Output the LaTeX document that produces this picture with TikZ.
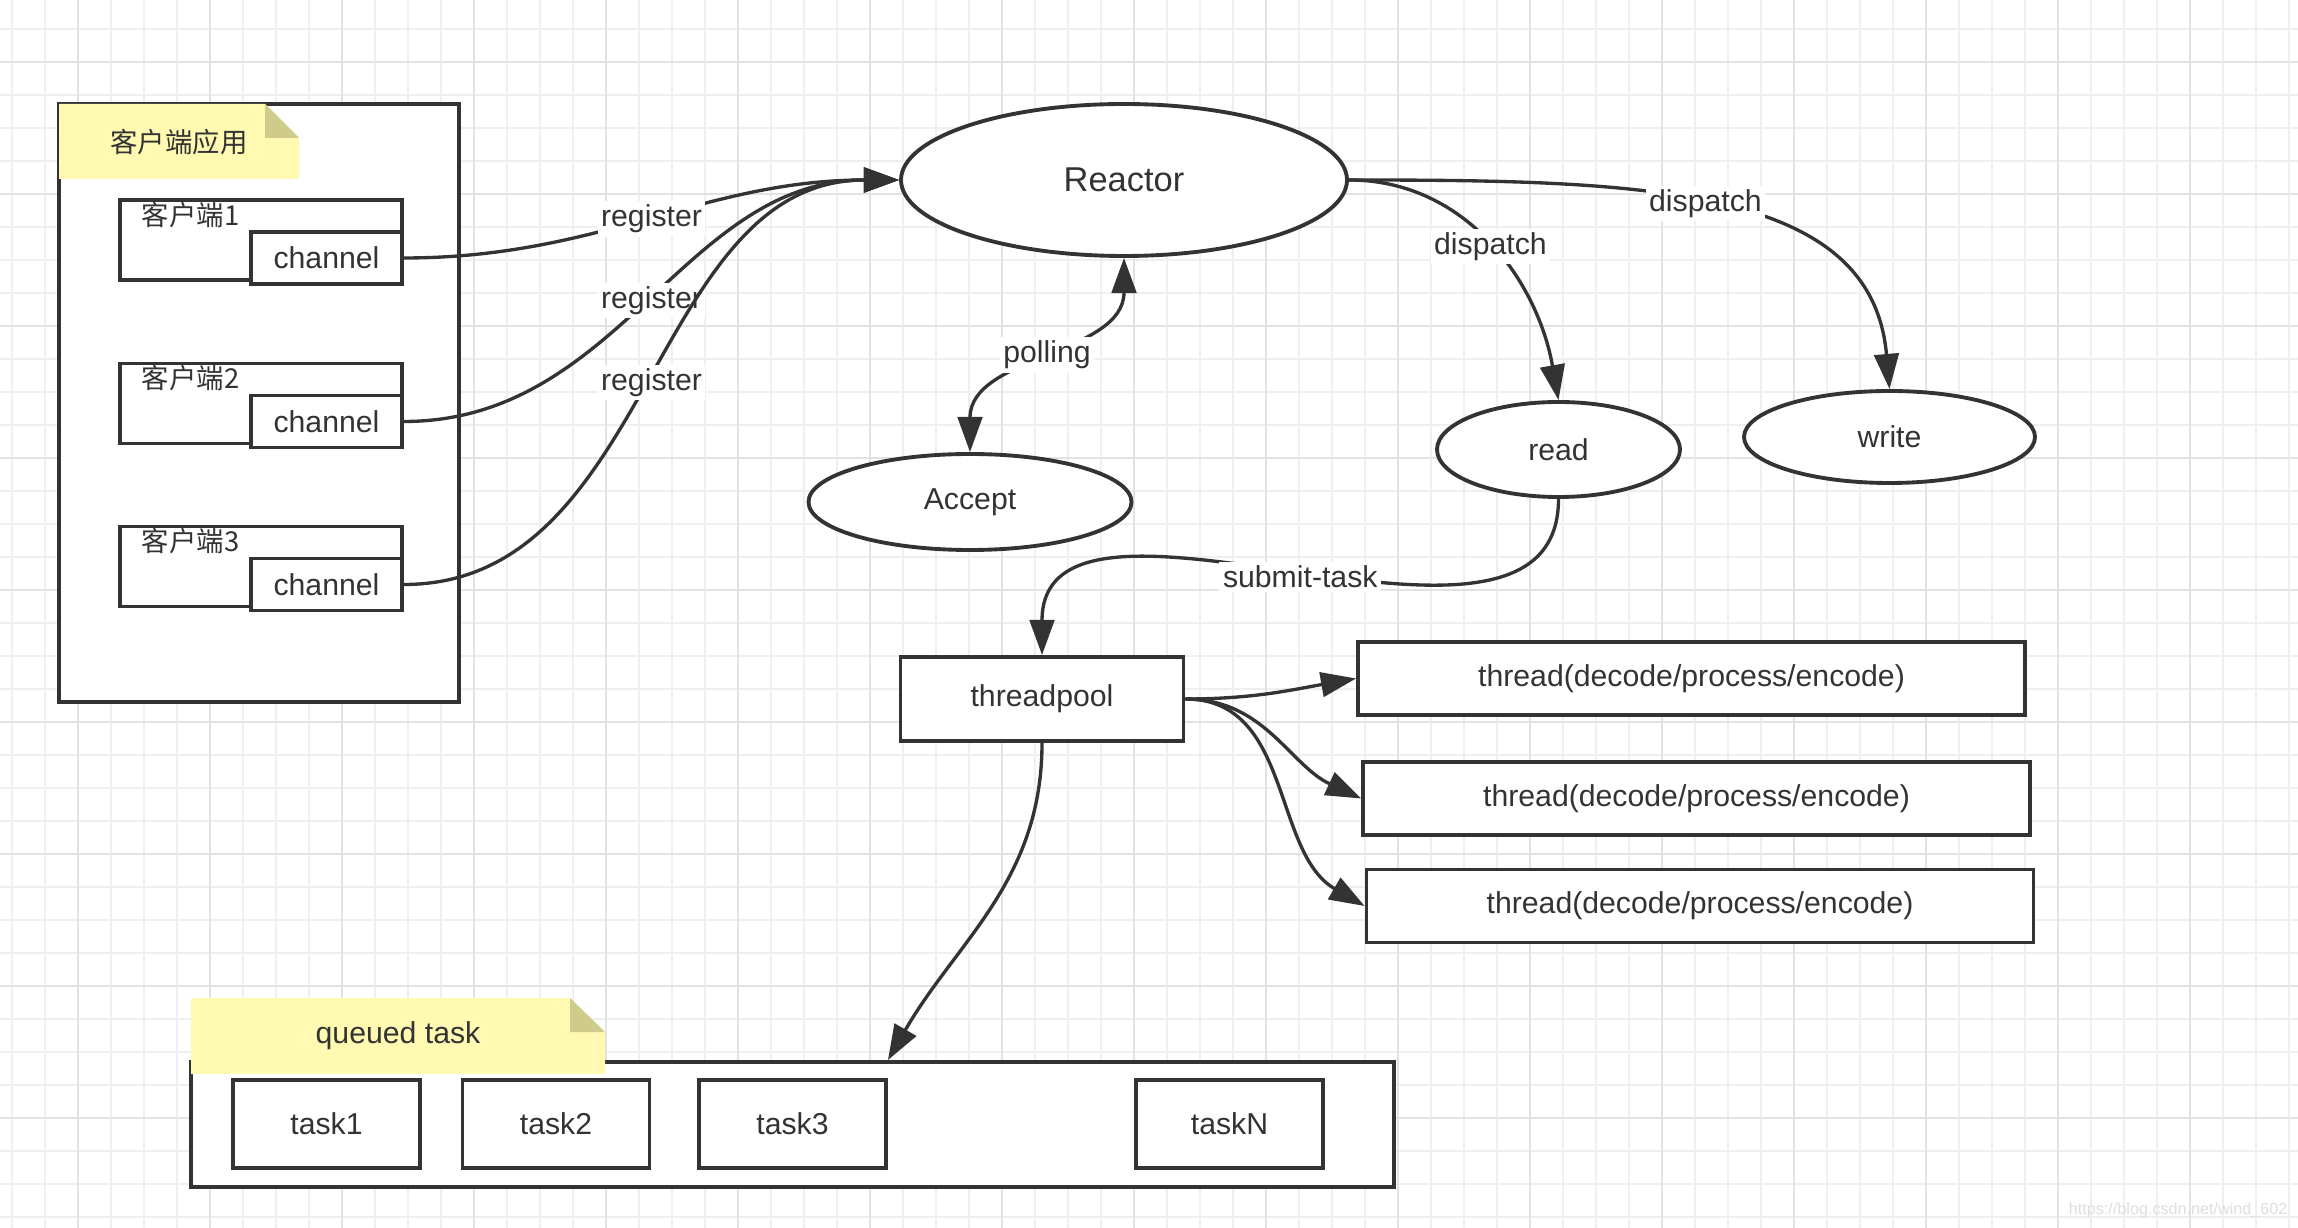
\documentclass[tikz,border=0pt]{standalone}
\usepackage{fontspec}
\setmainfont{Liberation Sans}
\newfontfamily\cjk{Noto Sans CJK SC}
\usetikzlibrary{shapes.geometric,arrows.meta}
\definecolor{ink}{HTML}{333333}
\definecolor{notefill}{HTML}{FFF9B2}
\definecolor{notefold}{HTML}{CFCB8A}
\definecolor{gridminor}{HTML}{EFEFEF}
\definecolor{gridmajor}{HTML}{E2E2E2}

\begin{document}
\begin{tikzpicture}[
        box/.style = {draw=ink, line width=1.1pt, fill=white, inner sep=0pt, text=ink, font=\fontsize{8.6}{10}\selectfont},
        oval/.style = {ellipse, draw=ink, line width=1.1pt, fill=white, inner sep=0pt, text=ink, font=\fontsize{8.6}{10}\selectfont},
        lbl/.style = {fill=white, inner sep=1pt, text=ink, font=\fontsize{8.6}{10}\selectfont},
        cn/.style = {inner sep=0pt, text=ink, font=\cjk\fontsize{7.8}{9}\selectfont},
        link/.style = {draw=ink, line width=0.95pt, -{Triangle[length=10pt,width=7pt]}}
    ]
        \useasboundingbox (0,0) rectangle (22.98,-12.28);
        \fill[white] (0,0) rectangle (22.98,-12.28);
        % grid
        \foreach \i in {0,...,69} \draw[gridminor, line width=0.4pt] ({0.12+0.33*\i},0) -- ++(0,-12.28);
        \foreach \j in {0,...,36} \draw[gridminor, line width=0.4pt] (0,{-0.29-0.33*\j}) -- ++(22.98,0);
        \foreach \i in {0,...,16} \draw[gridmajor, line width=0.5pt] ({0.78+1.32*\i},0) -- ++(0,-12.28);
        \foreach \j in {0,...,8} \draw[gridmajor, line width=0.5pt] (0,{-0.62-1.32*\j}) -- ++(22.98,0);

        % client side
        \node[box, minimum width=4cm, minimum height=5.98cm] (app) at (2.59,-4.03) {};
        \fill[notefill] (0.59,-1.04) -- (2.65,-1.04) -- (2.99,-1.38) -- (2.99,-1.79) -- (0.59,-1.79) -- cycle;
        \fill[notefold] (2.65,-1.04) -- (2.65,-1.38) -- (2.99,-1.38) -- cycle;
        \node[cn] (apptitle) at (1.79,-1.42) {客户端应用};

        \node[box, minimum width=2.82cm, minimum height=0.8cm] (cl1) at (2.61,-2.40) {};
        \node[box, anchor=south east, minimum width=1.51cm, minimum height=0.52cm] (ch1) at ([yshift=-0.04cm]cl1.south east) {channel};
        \node[cn, anchor=west] (cl1name) at ([xshift=0.23cm,yshift=-0.165cm]cl1.north west) {客户端1};

        \node[box, minimum width=2.82cm, minimum height=0.8cm] (cl2) at (2.61,-4.035) {};
        \node[box, anchor=south east, minimum width=1.51cm, minimum height=0.52cm] (ch2) at ([yshift=-0.04cm]cl2.south east) {channel};
        \node[cn, anchor=west] (cl2name) at ([xshift=0.23cm,yshift=-0.165cm]cl2.north west) {客户端2};

        \node[box, minimum width=2.82cm, minimum height=0.8cm] (cl3) at (2.61,-5.665) {};
        \node[box, anchor=south east, minimum width=1.51cm, minimum height=0.52cm] (ch3) at ([yshift=-0.04cm]cl3.south east) {channel};
        \node[cn, anchor=west] (cl3name) at ([xshift=0.23cm,yshift=-0.165cm]cl3.north west) {客户端3};

        % reactor and handlers
        \node[oval, minimum width=4.46cm, minimum height=1.52cm, font=\fontsize{9.8}{12}\selectfont] (reactor) at (11.24,-1.80) {Reactor};
        \node[oval, minimum width=3.23cm, minimum height=0.96cm] (accept) at (9.70,-5.02) {Accept};
        \node[oval, minimum width=2.43cm, minimum height=0.95cm] (read) at (15.585,-4.495) {read};
        \node[oval, minimum width=2.91cm, minimum height=0.92cm] (write) at (18.895,-4.37) {write};

        % thread pool
        \node[box, minimum width=2.83cm, minimum height=0.84cm] (pool) at (10.42,-6.99) {threadpool};
        \node[box, minimum width=6.67cm, minimum height=0.73cm] (th1) at (16.915,-6.785) {thread(decode/process/encode)};
        \node[box, minimum width=6.67cm, minimum height=0.73cm] (th2) at (16.965,-7.985) {thread(decode/process/encode)};
        \node[box, minimum width=6.67cm, minimum height=0.73cm] (th3) at (17.00,-9.06) {thread(decode/process/encode)};

        % task queue
        \node[box, minimum width=12.03cm, minimum height=1.25cm] (queue) at (7.925,-11.245) {};
        \fill[notefill] (1.91,-9.98) -- (5.70,-9.98) -- (6.05,-10.32) -- (6.05,-10.74) -- (1.91,-10.74) -- cycle;
        \fill[notefold] (5.70,-9.98) -- (5.70,-10.32) -- (6.05,-10.32) -- cycle;
        \node[lbl, fill=none] (queuetitle) at (3.98,-10.36) {queued task};
        \node[box, minimum width=1.87cm, minimum height=0.88cm] (task1) at (3.265,-11.24) {task1};
        \node[box, minimum width=1.87cm, minimum height=0.88cm] (task2) at (5.56,-11.24) {task2};
        \node[box, minimum width=1.87cm, minimum height=0.88cm] (task3) at (7.925,-11.24) {task3};
        \node[box, minimum width=1.87cm, minimum height=0.88cm] (taskN) at (12.295,-11.24) {taskN};

        % connectors
        \draw[link] (ch1.east) to[out=0,in=180] node[lbl] {register} (reactor.west);
        \draw[link] (ch2.east) to[out=0,in=180] node[lbl] {register} (reactor.west);
        \draw[link] (ch3.east) to[out=0,in=180] node[lbl] {register} (reactor.west);
        \draw[link, {Triangle[length=10pt,width=7pt]}-{Triangle[length=10pt,width=7pt]}] (accept.north) to[out=90,in=-90] node[lbl] {polling} (reactor.south);
        \draw[link] (reactor.east) to[out=0,in=100] node[lbl] {dispatch} (read.north);
        \draw[link] (reactor.east) to[out=0,in=95,out looseness=1.3,in looseness=0.9] node[lbl,pos=0.47] {dispatch} (write.north);
        \draw[link] (read.south) to[out=-90,in=90] node[lbl] {submit-task} (pool.north);
        \draw[link] (pool.east) to[out=0,in=190] (th1.west);
        \draw[link] (pool.east) to[out=0,in=155] (th2.west);
        \draw[link] (pool.east) to[out=0,in=150] (th3.west);
        \draw[link] (pool.south) to[out=-90,in=60] (queue.north -| task3.east);

        \node[text=black!13, font=\fontsize{4.6}{6}\selectfont, anchor=east, inner sep=0pt] (mark) at (22.88,-12.10) {https://blog.csdn.net/wind\_602};
    \end{tikzpicture}
\end{document}
